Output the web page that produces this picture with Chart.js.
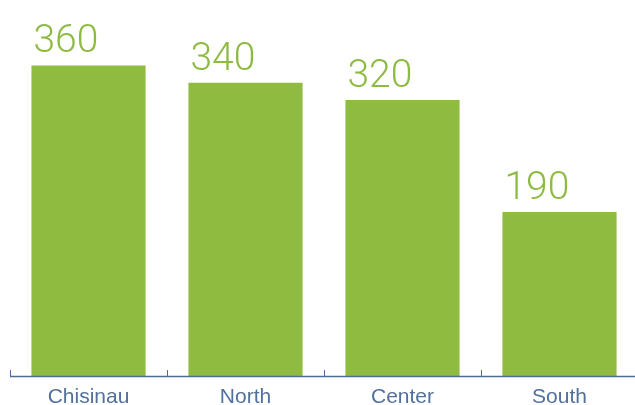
<!DOCTYPE html>
<html>
<head>
<meta charset="utf-8">
<script src="https://cdn.jsdelivr.net/npm/chart.js@4/dist/chart.umd.min.js"></script>
<style>
html,body{margin:0;padding:0;background:#fff;overflow:hidden;}
#wrap{position:relative;width:640px;height:405px;}
</style>
</head>
<body>
<div id="wrap"><canvas id="c" width="640" height="405"></canvas></div>
<script>
const categories = ["Chisinau", "North", "Center", "South"];
const values = [360, 340, 320, 190];

const barColor = "#8fbb40";
const axisColor = "#4d6c9c";

const valueLabels = {
  id: "valueLabels",
  afterDatasetsDraw(chart) {
    const ctx = chart.ctx;
    const meta = chart.getDatasetMeta(0);
    ctx.save();
    ctx.fillStyle = "#8dbb42";
    ctx.font = "300 39px Roboto";
    ctx.textAlign = "left";
    ctx.textBaseline = "alphabetic";
    meta.data.forEach((bar, i) => {
      const left = bar.x - bar.width / 2;
      ctx.fillText(String(values[i]), left + 2, bar.y - 13);
    });
    ctx.restore();
  }
};

const axisDecor = {
  id: "axisDecor",
  afterDatasetsDraw(chart) {
    const ctx = chart.ctx;
    const xs = chart.scales.x;
    const bottom = chart.chartArea.bottom;
    const cw = xs.width / categories.length;
    ctx.save();
    ctx.strokeStyle = axisColor;
    ctx.lineWidth = 1;
    categories.forEach((c, i) => {
      const x = Math.round(xs.getPixelForValue(i) - cw / 2) + 0.5;
      ctx.beginPath();
      ctx.moveTo(x, bottom - 6);
      ctx.lineTo(x, bottom);
      ctx.stroke();
    });
    ctx.beginPath();
    ctx.lineWidth = 1.5;
    ctx.moveTo(xs.left, bottom + 0.5);
    ctx.lineTo(xs.right, bottom + 0.5);
    ctx.stroke();
    ctx.fillStyle = "#52709c";
    ctx.font = "21px 'Liberation Sans'";
    ctx.textAlign = "center";
    ctx.textBaseline = "alphabetic";
    categories.forEach((c, i) => {
      ctx.fillText(c, xs.getPixelForValue(i), bottom + 27);
    });
    ctx.restore();
  }
};

new Chart(document.getElementById("c"), {
  type: "bar",
  data: {
    labels: categories,
    datasets: [{
      data: values,
      backgroundColor: barColor,
      borderWidth: 0,
      barPercentage: 0.727,
      categoryPercentage: 1.0
    }]
  },
  options: {
    responsive: false,
    animation: false,
    layout: { padding: { left: 10, right: 2, top: 5, bottom: 29 } },
    plugins: { legend: { display: false }, tooltip: { enabled: false } },
    scales: {
      x: {
        display: false,
        grid: { display: false }
      },
      y: {
        display: false,
        min: 0,
        max: 430
      }
    }
  },
  plugins: [valueLabels, axisDecor]
});
</script>
</body>
</html>
